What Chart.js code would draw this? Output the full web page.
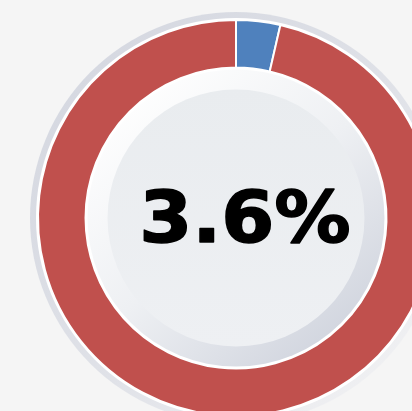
<!DOCTYPE html>
<html>
<head>
<meta charset="utf-8">
<script src="https://cdn.jsdelivr.net/npm/chart.js@4"></script>
<style>
  html, body { margin: 0; padding: 0; background: #f5f5f5; }
  body { width: 412px; height: 411px; overflow: hidden; position: relative; }
  #wrap { position: absolute; left: 26px; top: 8px; width: 420px; height: 420px; }
</style>
</head>
<body>
<div id="wrap"><canvas id="gauge" width="420" height="420"></canvas></div>
<script>
// ── data ──────────────────────────────────
const labels = ['Share', 'Rest'];
const values = [3.6, 96.4];
const centerLabel = '3.6%';

// bezel ring behind the doughnut, dish + text on top of it
const dishPlugin = {
    id: 'dish',
    beforeDatasetsDraw(chart) {
        const arc = chart.getDatasetMeta(0).data[0];
        const { x, y, outerRadius } = arc;
        const ctx = chart.ctx;
        ctx.save();
        const g = ctx.createLinearGradient(x - 200, y - 200, x + 200, y + 200);
        g.addColorStop(0, '#d3d6df');
        g.addColorStop(0.55, '#e0e2e8');
        g.addColorStop(1, '#f5f5f6');
        ctx.beginPath();
        ctx.arc(x, y, outerRadius + 8, 0, Math.PI * 2);
        ctx.fillStyle = g;
        ctx.fill();
        ctx.beginPath();
        ctx.arc(x, y, outerRadius + 2, 0, Math.PI * 2);
        ctx.fillStyle = '#ffffff';
        ctx.fill();
        ctx.restore();
    },
    afterDatasetsDraw(chart) {
        const arc = chart.getDatasetMeta(0).data[0];
        const { x, y, innerRadius } = arc;
        const ctx = chart.ctx;
        ctx.save();
        // bevel
        const b = ctx.createLinearGradient(x - 110, y - 130, x + 110, y + 130);
        b.addColorStop(0, '#ffffff');
        b.addColorStop(0.5, '#eef0f3');
        b.addColorStop(1, '#cfd3dd');
        ctx.beginPath();
        ctx.arc(x, y, innerRadius - 2, 0, Math.PI * 2);
        ctx.fillStyle = b;
        ctx.fill();
        // flat face
        const f = ctx.createLinearGradient(x, y - 130, x, y + 130);
        f.addColorStop(0, '#e9ecef');
        f.addColorStop(1, '#eef0f3');
        ctx.beginPath();
        ctx.arc(x, y, innerRadius - 22, 0, Math.PI * 2);
        ctx.fillStyle = f;
        ctx.fill();
        // label
        ctx.fillStyle = '#000000';
        ctx.strokeStyle = '#000000';
        ctx.lineWidth = 1.5;
        ctx.lineJoin = 'round';
        ctx.font = 'bold 72px "DejaVu Sans"';
        ctx.textAlign = 'center';
        ctx.textBaseline = 'alphabetic';
        ctx.translate(x + 9, y + 24);
        ctx.scale(1.06, 1);
        ctx.fillText(centerLabel, 0, 0);
        ctx.strokeText(centerLabel, 0, 0);
        ctx.restore();
    }
};

new Chart(document.getElementById('gauge'), {
    type: 'doughnut',
    data: {
        labels: labels,
        datasets: [{
            data: values,
            backgroundColor: ['#4f81bd', '#c0504d'],
            borderColor: '#ffffff',
            borderWidth: 2,
        }]
    },
    options: {
        responsive: false,
        animation: false,
        cutout: '76%',
        layout: { padding: 11 },
        plugins: {
            legend: { display: false },
            tooltip: { enabled: false }
        }
    },
    plugins: [dishPlugin]
});
</script>
</body>
</html>
